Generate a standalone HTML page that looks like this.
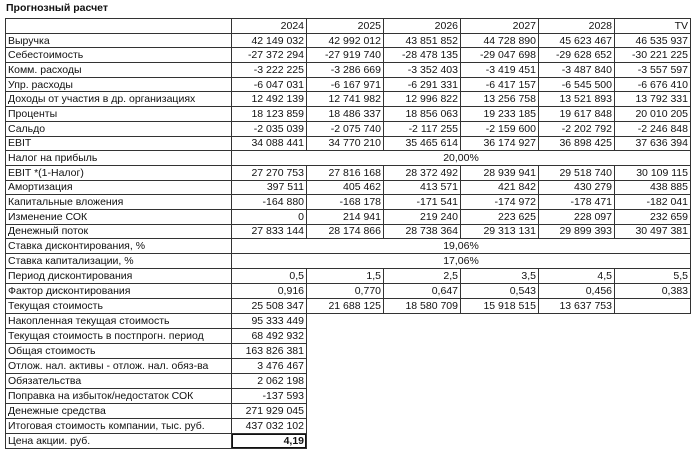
<!DOCTYPE html>
<html><head><meta charset="utf-8"><style>
body{margin:0;background:#fff;width:700px;height:457px;overflow:hidden;font-family:"Liberation Sans",Arial,sans-serif;color:#111}
.t{position:absolute;left:6px;top:2px;font-size:10.5px;font-weight:bold}
table{position:absolute;left:5px;top:18px;border-collapse:collapse;font-size:10.5px;table-layout:fixed}
td{border:1px solid #333;height:13.7px;padding:0 2px;white-space:nowrap;overflow:hidden;line-height:12px}
tr.b td{height:14.0px}
td.n{text-align:right}
td.c{text-align:center}
td.x{border:none}
</style></head><body>
<div class="t">Прогнозный расчет</div>
<table>
<colgroup><col style="width:226px"><col style="width:75px"><col style="width:77px"><col style="width:77px"><col style="width:78px"><col style="width:76px"><col style="width:76px"></colgroup>
<tr><td></td><td class="n">2024</td><td class="n">2025</td><td class="n">2026</td><td class="n">2027</td><td class="n">2028</td><td class="n">TV</td></tr>
<tr><td>Выручка</td><td class="n">42 149 032</td><td class="n">42 992 012</td><td class="n">43 851 852</td><td class="n">44 728 890</td><td class="n">45 623 467</td><td class="n">46 535 937</td></tr>
<tr><td>Себестоимость</td><td class="n">-27 372 294</td><td class="n">-27 919 740</td><td class="n">-28 478 135</td><td class="n">-29 047 698</td><td class="n">-29 628 652</td><td class="n">-30 221 225</td></tr>
<tr><td>Комм. расходы</td><td class="n">-3 222 225</td><td class="n">-3 286 669</td><td class="n">-3 352 403</td><td class="n">-3 419 451</td><td class="n">-3 487 840</td><td class="n">-3 557 597</td></tr>
<tr><td>Упр. расходы</td><td class="n">-6 047 031</td><td class="n">-6 167 971</td><td class="n">-6 291 331</td><td class="n">-6 417 157</td><td class="n">-6 545 500</td><td class="n">-6 676 410</td></tr>
<tr><td>Доходы от участия в др. организациях</td><td class="n">12 492 139</td><td class="n">12 741 982</td><td class="n">12 996 822</td><td class="n">13 256 758</td><td class="n">13 521 893</td><td class="n">13 792 331</td></tr>
<tr><td>Проценты</td><td class="n">18 123 859</td><td class="n">18 486 337</td><td class="n">18 856 063</td><td class="n">19 233 185</td><td class="n">19 617 848</td><td class="n">20 010 205</td></tr>
<tr><td>Сальдо</td><td class="n">-2 035 039</td><td class="n">-2 075 740</td><td class="n">-2 117 255</td><td class="n">-2 159 600</td><td class="n">-2 202 792</td><td class="n">-2 246 848</td></tr>
<tr><td>EBIT</td><td class="n">34 088 441</td><td class="n">34 770 210</td><td class="n">35 465 614</td><td class="n">36 174 927</td><td class="n">36 898 425</td><td class="n">37 636 394</td></tr>
<tr><td>Налог на прибыль</td><td class="c" colspan="6">20,00%</td></tr>
<tr><td>EBIT *(1-Налог)</td><td class="n">27 270 753</td><td class="n">27 816 168</td><td class="n">28 372 492</td><td class="n">28 939 941</td><td class="n">29 518 740</td><td class="n">30 109 115</td></tr>
<tr><td>Амортизация</td><td class="n">397 511</td><td class="n">405 462</td><td class="n">413 571</td><td class="n">421 842</td><td class="n">430 279</td><td class="n">438 885</td></tr>
<tr><td>Капитальные вложения</td><td class="n">-164 880</td><td class="n">-168 178</td><td class="n">-171 541</td><td class="n">-174 972</td><td class="n">-178 471</td><td class="n">-182 041</td></tr>
<tr><td>Изменение СОК</td><td class="n">0</td><td class="n">214 941</td><td class="n">219 240</td><td class="n">223 625</td><td class="n">228 097</td><td class="n">232 659</td></tr>
<tr><td>Денежный поток</td><td class="n">27 833 144</td><td class="n">28 174 866</td><td class="n">28 738 364</td><td class="n">29 313 131</td><td class="n">29 899 393</td><td class="n">30 497 381</td></tr>
<tr class="b"><td>Ставка дисконтирования, %</td><td class="c" colspan="6">19,06%</td></tr>
<tr class="b"><td>Ставка капитализации, %</td><td class="c" colspan="6">17,06%</td></tr>
<tr class="b"><td>Период дисконтирования</td><td class="n">0,5</td><td class="n">1,5</td><td class="n">2,5</td><td class="n">3,5</td><td class="n">4,5</td><td class="n">5,5</td></tr>
<tr class="b"><td>Фактор дисконтирования</td><td class="n">0,916</td><td class="n">0,770</td><td class="n">0,647</td><td class="n">0,543</td><td class="n">0,456</td><td class="n">0,383</td></tr>
<tr class="b"><td>Текущая стоимость</td><td class="n">25 508 347</td><td class="n">21 688 125</td><td class="n">18 580 709</td><td class="n">15 918 515</td><td class="n">13 637 753</td><td></td></tr>
<tr class="b"><td>Накопленная текущая стоимость</td><td class="n">95 333 449</td><td class="x" colspan="5" style="border-top:1px solid #333"></td></tr>
<tr class="b"><td>Текущая стоимость в постпрогн. период</td><td class="n">68 492 932</td><td class="x" colspan="5"></td></tr>
<tr class="b"><td>Общая стоимость</td><td class="n">163 826 381</td><td class="x" colspan="5"></td></tr>
<tr class="b"><td>Отлож. нал. активы - отлож. нал. обяз-ва</td><td class="n">3 476 467</td><td class="x" colspan="5"></td></tr>
<tr class="b"><td>Обязательства</td><td class="n">2 062 198</td><td class="x" colspan="5"></td></tr>
<tr class="b"><td>Поправка на избыток/недостаток СОК</td><td class="n">-137 593</td><td class="x" colspan="5"></td></tr>
<tr class="b"><td>Денежные средства</td><td class="n">271 929 045</td><td class="x" colspan="5"></td></tr>
<tr class="b"><td>Итоговая стоимость компании, тыс. руб.</td><td class="n">437 032 102</td><td class="x" colspan="5"></td></tr>
<tr class="b"><td>Цена акции. руб.</td><td class="n" style="font-weight:bold;box-shadow:inset 0 0 0 1px #111">4,19</td><td class="x" colspan="5"></td></tr>
</table>
</body></html>
